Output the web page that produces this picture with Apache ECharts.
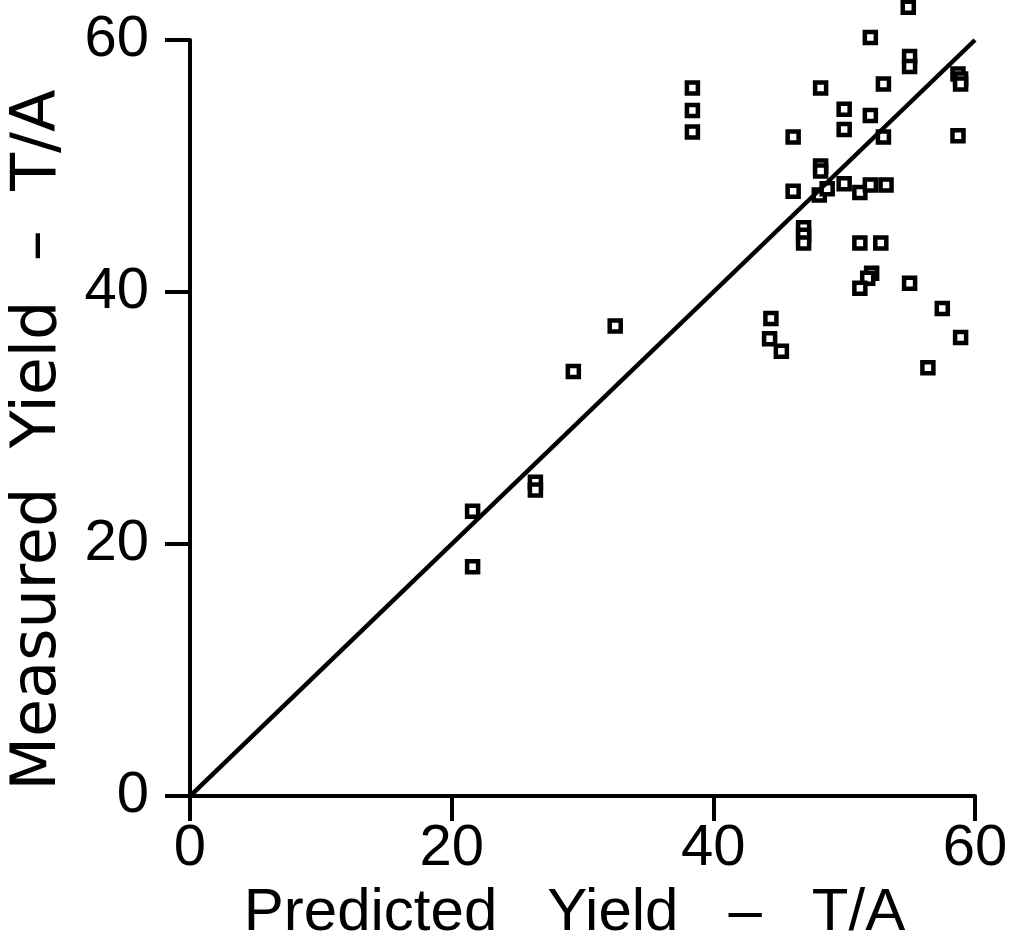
<!DOCTYPE html>
<html>
<head>
<meta charset="utf-8">
<script src="https://cdn.jsdelivr.net/npm/echarts@6/dist/echarts.min.js"></script>
<style>
html,body{margin:0;padding:0;background:#fff;}
#chart{width:1014px;height:948px;}
</style>
</head>
<body>
<div id="chart"></div>
<script>
const predicted = [38.4,38.4,38.4,54.9,52.0,55.0,55.0,58.7,58.9,58.9,53.0,48.2,50.0,52.0,50.0,53.0,46.1,58.7,48.2,48.2,46.1,48.1,48.7,50.0,51.2,52.0,53.2,46.9,46.9,46.9,51.2,52.8,52.1,51.8,51.2,55.0,57.5,58.9,56.4,44.4,44.3,45.2,32.5,29.3,26.4,26.4,21.6,21.6];
const measured  = [56.2,54.4,52.7,62.6,60.2,58.7,57.9,57.3,56.9,56.5,56.5,56.2,54.5,54.0,52.9,52.3,52.3,52.4,50.0,49.6,48.0,47.7,48.2,48.6,47.9,48.5,48.5,45.1,44.5,43.9,43.9,43.9,41.5,41.1,40.3,40.7,38.7,36.4,34.0,37.9,36.3,35.3,37.3,33.7,24.9,24.3,22.6,18.2];
const lineX = [0,60];
const lineY = [0,60];
const tickValues = [0,20,40,60];
const xTitle = 'Predicted   Yield   –   T/A';
const yTitle = 'Measured  Yield  –  T/A';

const chart = echarts.init(document.getElementById('chart'), null, {renderer:'canvas'});
const axisCommon = {
  type:'value', min:0, max:60, interval:20,
  splitLine:{show:false},
  axisLine:{show:true, onZero:false, lineStyle:{color:'#000', width:4}},
  axisTick:{show:true, inside:false, length:25, lineStyle:{color:'#000', width:4}}
};
chart.setOption({
  animation:false,
  backgroundColor:'#fff',
  grid:{left:190, right:39, top:40, bottom:143, containLabel:false},
  xAxis:Object.assign({}, axisCommon, {
    name:xTitle, nameLocation:'middle', nameGap:80,
    nameTextStyle:{fontFamily:'Liberation Sans', fontSize:60, color:'#000', padding:[0,16,0,0]},
    axisLabel:{margin:24, fontFamily:'Liberation Sans', fontSize:58, color:'#000',
      formatter:function(v){return tickValues.indexOf(v)>=0 ? String(v) : '';}}
  }),
  yAxis:Object.assign({}, axisCommon, {
    name:yTitle, nameLocation:'middle', nameGap:120, nameRotate:90,
    nameTextStyle:{fontFamily:'DejaVu Sans', fontSize:62, color:'#000', padding:[0,44,0,0]},
    axisLabel:{margin:41, fontFamily:'Liberation Sans', fontSize:58, color:'#000',
      formatter:function(v){return tickValues.indexOf(v)>=0 ? String(v) : '';}}
  }),
  series:[
    {type:'line', data:lineX.map((x,i)=>[x,lineY[i]]), symbol:'none', clip:false,
     lineStyle:{color:'#000', width:4.5}},
    {type:'scatter', data:predicted.map((x,i)=>[x,measured[i]]), clip:false,
     symbol:'rect', symbolSize:11,
     itemStyle:{color:'#fff', borderColor:'#000', borderWidth:4.5, opacity:1}}
  ]
});
</script>
</body>
</html>
